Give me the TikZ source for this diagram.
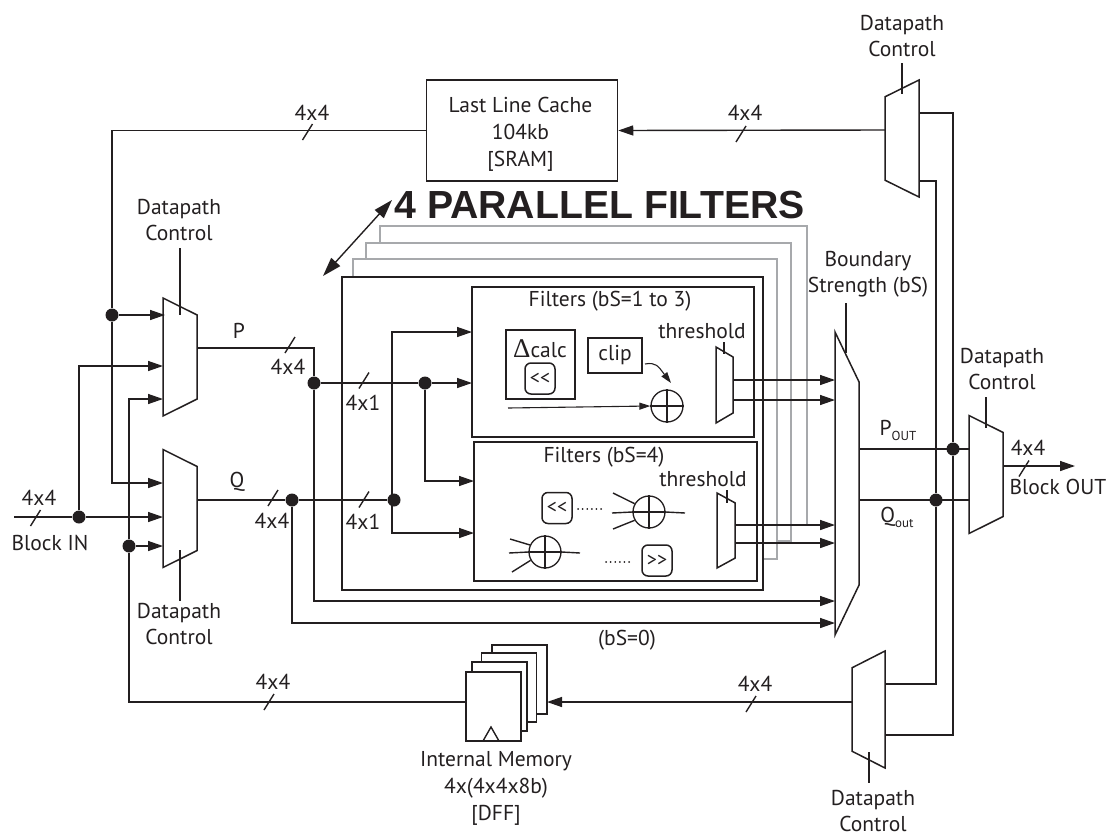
\documentclass[tikz,border=0pt]{standalone}
\usepackage{fontspec}
\setmainfont{PT Sans}
\newfontfamily\headfont{Liberation Sans}
\newfontfamily\deltafont{Liberation Serif}
\usepackage{tikz}
\usetikzlibrary{arrows.meta, shapes.geometric}
\definecolor{ink}{HTML}{231F20}
\definecolor{shade}{HTML}{A7A9AC}

\begin{document}
\begin{tikzpicture}[
  x=1pt, y=-1pt,
  lbl/.style={font=\fontsize{21.5}{24}\selectfont, text=ink, inner sep=0pt, align=center},
  wire/.style={line width=1.4pt, draw=ink},
  bus/.style={wire, -{Triangle[length=15pt,width=10pt]}},
  thinbus/.style={line width=1.1pt, draw=ink, -{Triangle[length=11pt,width=7pt]}},
  backbox/.style={line width=1.4pt, draw=shade},
  box/.style={draw=ink, line width=1.5pt, inner sep=0pt},
  shiftbox/.style={box, rounded corners=6pt, minimum width=30pt, minimum height=31pt,
                   font=\fontsize{20}{22}\selectfont, text=ink},
  dot/.style={circle, fill=ink, inner sep=0pt, minimum size=13pt},
  adder/.style={circle, draw=ink, line width=1.3pt, minimum size=32pt, inner sep=0pt},
  muxbase/.style={trapezium, draw=ink, line width=1.5pt, inner sep=1pt, outer sep=0pt,
               trapezium stretches=true, trapezium left angle=78.6, trapezium right angle=78.6,
               minimum width=118pt, minimum height=34pt},
  muxL/.style={muxbase, rotate=-90},
  muxR/.style={muxbase, rotate=90},
]
\useasboundingbox (0,0) rectangle (1109,836);

% copies of the filter block behind the front one
\draw[backbox] (353,277) -- (353,259) -- (777,259) -- (777,559) -- (763,559);
\draw[backbox] (366,259) -- (366,243) -- (791,243) -- (791,541) -- (777,541);
\draw[backbox] (380,243) -- (380,226) -- (807,226) -- (807,525) -- (791,525);

\node[box, minimum width=421pt, minimum height=313pt] (filterbank) at (552.5,433.5) {};
\node[box, minimum width=282pt, minimum height=150pt] (filterA) at (613,362) {};
\node[box, minimum width=283pt, minimum height=139pt] (filterB) at (615.5,511.5) {};

\node[lbl, font=\fontsize{39.2}{41}\selectfont\headfont\bfseries] (title) at (599.5,205) {4 PARALLEL FILTERS};
\coordinate (titleA) at (392,200);
\coordinate (titleB) at (323,276);
\draw[wire, {Triangle[length=19pt,width=12pt]}-{Triangle[length=19pt,width=12pt]}] (titleA) -- (titleB);

% memories
\node[box, minimum width=191pt, minimum height=101pt] (cache) at (522,130.5) {};
\node[lbl] (cachetext) at (520.5,134.5) {Last Line Cache\\[3pt]104kb\\[3pt]{[SRAM]}};
\node[box, fill=white, minimum width=55pt, minimum height=69pt] (memD) at (519.5,679.5) {};
\node[box, fill=white, minimum width=55pt, minimum height=69pt] (memC) at (509,687.5) {};
\node[box, fill=white, minimum width=55pt, minimum height=69pt] (memB) at (499.5,696.5) {};
\node[box, fill=white, minimum width=55pt, minimum height=69pt] (memA) at (493.5,706.5) {};
\coordinate (clkA) at (483,741);
\coordinate (clkB) at (491,727);
\coordinate (clkC) at (499,741);
\draw[wire] (clkA) -- (clkB) -- (clkC);
\node[lbl] (memtext) at (496,788) {Internal Memory\\[3pt]4x(4x4x8b)\\[3pt]{[DFF]}};

% muxes
\node[muxL] (muxP) at (180,357) {};
\node[muxL] (muxQ) at (180,508.5) {};
\node[muxL] (muxOut) at (986,474.5) {};
\node[muxR, minimum width=117pt] (muxTop) at (902,138.5) {};
\node[muxR, minimum width=117pt, minimum height=33pt] (muxBot) at (868.5,709.5) {};
\node[muxL, minimum width=303pt, minimum height=24pt,
      trapezium left angle=76.2, trapezium right angle=76.2] (muxBS) at (847,483.5) {};
\node[muxL, minimum width=76pt, minimum height=17pt,
      trapezium left angle=79.9, trapezium right angle=79.9] (muxA) at (724.5,385) {};
\node[muxL, minimum width=75pt, minimum height=18pt,
      trapezium left angle=79.9, trapezium right angle=79.9] (muxB) at (726,530.5) {};

% junctions
\node[dot] (jA) at (112,315) {};
\node[dot] (jB) at (79,517) {};
\node[dot] (jC) at (129,546) {};
\node[dot] (jP) at (314,383) {};
\node[dot] (jQ) at (292,500) {};
\node[dot] (jD) at (425,383) {};
\node[dot] (jE) at (394,500) {};
\node[dot] (jF) at (953,449) {};
\node[dot] (jG) at (936,500) {};

% inside the filters
\node[box, minimum width=69pt, minimum height=69pt] (calc) at (540.5,364.5) {};
\node[lbl] (calctext) at (540,349) {{\deltafont\fontsize{27}{27}\selectfont Δ}calc};
\node[shiftbox] (shiftA) at (540,378.5) {<{}<};
\node[box, minimum width=54pt, minimum height=35pt, lbl] (clip) at (615,355.5) {clip};
\node[adder] (addA) at (667,406) {};
\node[shiftbox] (shiftB) at (557,508) {<{}<};
\node[adder] (addB) at (649,512) {};
\node[adder] (addC) at (545,552) {};
\node[shiftbox] (shiftC) at (657,560.5) {>{}>};
\node[lbl] (threshA) at (702,331) {threshold};
\node[lbl] (threshB) at (703,479) {threshold};
\node[lbl] (filterAtext) at (610,301) {Filters (bS=1 to 3)};
\node[lbl] (filterBtext) at (604,457) {Filters (bS=4)};

\foreach \n in {addA, addB, addC} {
  \draw[wire, line width=1.2pt] (\n.north) -- (\n.south);
  \draw[wire, line width=1.2pt] (\n.west) -- (\n.east);
}
\coordinate (calcIn) at (508,408);
\draw[thinbus] (calcIn) -- (addA.west);
\coordinate (clipOut) at (645,364);
\coordinate (clipTip) at (671,383);
\draw[thinbus] (clipOut) .. controls (656,362) and (658,366) .. (clipTip);
\draw[wire, line width=1.8pt, line cap=round, dash pattern=on 0.1pt off 4.5pt] (578,509) -- (604,509);
\draw[wire, line width=1.8pt, line cap=round, dash pattern=on 0.1pt off 4.5pt] (606,562) -- (632,562);
\coordinate (bIn1) at (613,493); \coordinate (bIn2) at (612,513); \coordinate (bIn3) at (613,529); \coordinate (bOut) at (685,513);
\draw[wire] (bIn1) -- (addB.150);
\draw[wire] (bIn2) -- (addB.west);
\draw[wire] (bIn3) -- (addB.210);
\draw[wire] (addB.east) -- (bOut);
\coordinate (cIn1) at (510,539); \coordinate (cIn2) at (509,553); \coordinate (cIn3) at (512,572); \coordinate (cOut) at (580,553);
\draw[wire] (cIn1) -- (addC.155);
\draw[wire] (cIn2) -- (addC.west);
\draw[wire] (cIn3) -- (addC.210);
\draw[wire] (addC.east) -- (cOut);

% control lines
\node[lbl] (ctlP) at (179,220) {Datapath\\[2pt]Control};
\node[lbl] (ctlQ) at (179,624) {Datapath\\[2pt]Control};
\node[lbl] (ctlTop) at (902,36) {Datapath\\[2pt]Control};
\node[lbl] (ctlOut) at (1002,369.5) {Datapath\\[2pt]Control};
\node[lbl] (ctlBot) at (873,811) {Datapath\\[2pt]Control};
\node[lbl] (ctlBS) at (868,274) {Boundary\\[2pt]Strength (bS)};
\coordinate (ctlPa) at (180,248); \coordinate (ctlPb) at (180,315);
\coordinate (ctlQa) at (180,550); \coordinate (ctlQb) at (180,601);
\coordinate (ctlTa) at (902,63); \coordinate (ctlTb) at (902,94);
\coordinate (ctlOa) at (986,397); \coordinate (ctlOb) at (986,428);
\coordinate (ctlBa) at (869,752); \coordinate (ctlBb) at (869,783);
\coordinate (ctlSa) at (846,303); \coordinate (ctlSb) at (846,353);
\coordinate (ctlAa) at (724,342); \coordinate (ctlAb) at (724,354);
\coordinate (ctlBxa) at (727,490); \coordinate (ctlBxb) at (727,503);
\foreach \a/\b in {ctlPa/ctlPb, ctlQa/ctlQb, ctlTa/ctlTb, ctlOa/ctlOb, ctlBa/ctlBb, ctlSa/ctlSb, ctlAa/ctlAb, ctlBxa/ctlBxb}
  \draw[wire] (\a) -- (\b);

% left side inputs
\coordinate (blockIn) at (14,517);
\coordinate (pinP1) at (165,315);
\coordinate (pinP2) at (163,366);
\coordinate (pinP3) at (163,399);
\coordinate (pinQ1) at (163,483);
\coordinate (pinQ2) at (163,517);
\coordinate (pinQ3) at (163,546);
\draw[wire] (cache.west) -| (jA);
\draw[bus] (jA) -- (pinP1);
\draw[bus] (jA) |- (pinQ1);
\draw[wire] (blockIn) -- (jB);
\draw[bus] (jB) -- (pinQ2);
\draw[bus] (jB) |- (pinP2);
\draw[bus] (jC) |- (pinP3);
\draw[bus] (jC) -- (pinQ3);

% P and Q towards the filters
\coordinate (outP) at (197,348);
\coordinate (outQ) at (197,500);
\coordinate (bsP) at (835,601);
\coordinate (bsQ) at (835,623);
\coordinate (cornerP) at (314,348);
\coordinate (inA1) at (472,332);
\coordinate (inA2) at (472,383);
\coordinate (inB1) at (474,481);
\coordinate (inB2) at (474,533);
\coordinate (riser) at (392,500);
\draw[wire] (outP) -- (cornerP) -- (jP);
\draw[bus] (jP) |- (bsP);
\draw[wire] (outQ) -- (jQ);
\draw[bus] (jQ) |- (bsQ);
\draw[wire] (jQ) -- (jE);
\draw[wire] (jP) -- (jD);
\draw[bus] (jD) -- (inA2);
\draw[bus] (jD) |- (inB1);
\draw[bus] (riser) |- (inA1);
\draw[bus] (riser) |- (inB2);

% into the boundary strength mux
\foreach \n/\y in {a/380, b/400} {
  \coordinate (fromA\n) at (733,\y);
  \coordinate (toA\n) at (835,\y);
  \draw[bus] (fromA\n) -- (toA\n);
}
\foreach \n/\y in {a/525, b/543} {
  \coordinate (fromB\n) at (735,\y);
  \coordinate (toB\n) at (835,\y);
  \draw[bus] (fromB\n) -- (toB\n);
}

% right side
\coordinate (bsOutP) at (859,449);
\coordinate (bsOutQ) at (859,500);
\coordinate (pinOut1) at (969,449);
\coordinate (pinOut2) at (969,500);
\coordinate (blockOut) at (1075,466);
\coordinate (muxOutR) at (1003,466);
\draw[wire] (bsOutP) -- (pinOut1);
\draw[wire] (bsOutQ) -- (pinOut2);
\draw[bus] (muxOutR) -- (blockOut);
\coordinate (topOutA) at (919,113);
\coordinate (topOutB) at (919,181);
\coordinate (botInA) at (885,684);
\coordinate (botInB) at (885,735);
\draw[wire] (topOutA) -| (jF);
\draw[wire] (topOutB) -| (jG);
\draw[wire] (jF) |- (botInB);
\draw[wire] (jG) |- (botInA);
\coordinate (topIn) at (885,130);
\coordinate (botIn) at (852,702);
\coordinate (memTip) at (547,702);
\coordinate (memOut) at (129,702);
\draw[bus] (topIn) -- (cache.east);
\draw[bus] (botIn) -- (memTip);
\draw[wire] (memA.west |- memOut) -- (memOut) -- (jC);

% bus marks and their widths
\foreach \x/\y in {307.5/132, 741/134, 35.5/518, 290/345, 273/498, 364/380.5, 364/499.5, 1024/468.5, 269/702, 751/704}
  \draw[wire] (\x-5,\y+8) -- (\x+5,\y-8);
\node[lbl] (w1) at (312,113) {4x4};
\node[lbl] (w2) at (745,113) {4x4};
\node[lbl] (w3) at (39,498) {4x4};
\node[lbl] (w4) at (288,367) {4x4};
\node[lbl] (w5) at (272,521) {4x4};
\node[lbl] (w6) at (363,403) {4x1};
\node[lbl] (w7) at (363,522) {4x1};
\node[lbl] (w8) at (1028,448) {4x4};
\node[lbl] (w9) at (273,682) {4x4};
\node[lbl] (w10) at (755,684) {4x4};

\node[lbl] (blockInText) at (50,543) {Block IN};
\node[lbl] (blockOutText) at (1058,487) {Block OUT};
\node[lbl] (labelP) at (239,331) {P};
\node[lbl] (labelQ) at (237,482) {Q};
\node[lbl] (labelPout) at (898,430) {P\raisebox{-5pt}{\fontsize{13}{13}\selectfont OUT}};
\node[lbl] (labelQout) at (897,517) {Q\raisebox{-5pt}{\fontsize{13}{13}\selectfont out}};
\node[lbl] (labelBs) at (627,640) {(bS=0)};

\end{tikzpicture}
\end{document}
